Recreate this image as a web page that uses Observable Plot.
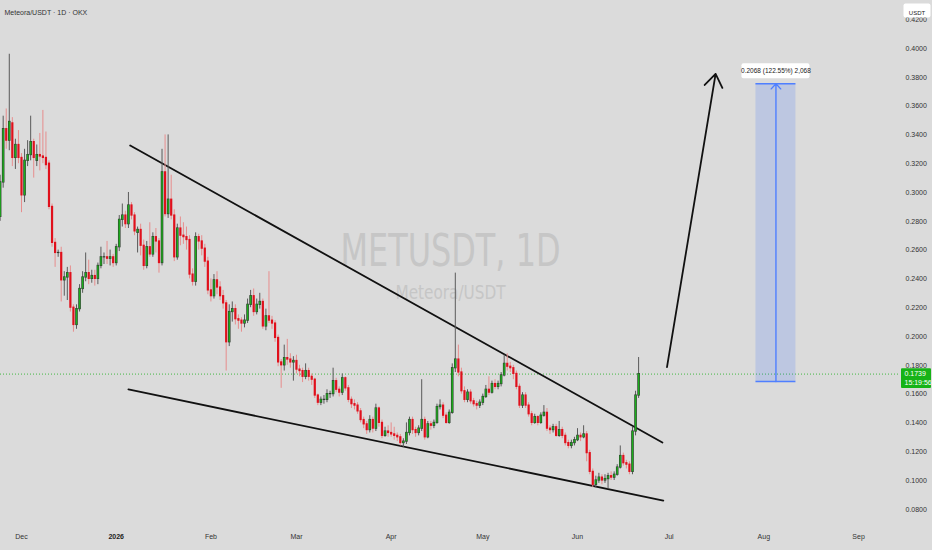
<!DOCTYPE html>
<html><head><meta charset="utf-8">
<script src="https://cdn.jsdelivr.net/npm/d3@7"></script>
<script src="https://cdn.jsdelivr.net/npm/@observablehq/plot@0.6"></script>
<style>
html,body{margin:0;padding:0;background:#dbdbdb;}
#chart svg{display:block;}
</style></head><body><div id="chart"></div>
<script>
// ---- data (daily candles, METUSDT, OKX) ----
const firstDay = [2025, 10, 24]; // Nov 24 2025 (UTC, month 0-based)
const opens = [0.283,0.307,0.344,0.336,0.348,0.324,0.333,0.324,0.298,0.322,0.326,0.335,0.322,0.326,0.325,0.324,0.320,0.290,0.265,0.258,0.258,0.239,0.241,0.244,0.220,0.208,0.219,0.233,0.241,0.244,0.240,0.242,0.240,0.249,0.255,0.255,0.254,0.255,0.251,0.262,0.281,0.284,
0.278,0.291,0.284,0.272,0.274,0.263,0.249,0.262,0.257,0.269,0.266,0.251,0.314,0.285,0.295,0.284,0.255,0.275,0.270,0.269,0.267,0.243,0.238,0.269,0.266,0.261,0.252,0.232,0.228,0.239,0.234,0.228,0.223,0.196,0.217,0.219,0.212,0.211,0.209,0.211,0.222,0.228,0.217,0.222,
0.224,0.207,0.214,0.211,0.209,0.199,0.182,0.180,0.185,0.184,0.182,0.183,0.177,0.176,0.172,0.176,0.172,0.170,0.159,0.154,0.156,0.156,0.160,0.160,0.169,0.163,0.161,0.171,0.164,0.156,0.153,0.152,0.148,0.142,0.139,0.135,0.142,0.136,0.150,0.140,0.131,0.134,
0.133,0.132,0.131,0.130,0.126,0.127,0.133,0.142,0.135,0.133,0.136,0.142,0.130,0.139,0.138,0.140,0.151,0.152,0.145,0.140,0.147,0.178,0.184,0.175,0.162,0.156,0.161,0.155,0.153,0.152,0.154,0.158,0.163,0.161,0.167,0.165,0.167,0.173,0.181,0.179,0.178,0.174,0.165,
0.152,0.159,0.152,0.146,0.140,0.144,0.140,0.145,0.147,0.136,0.135,0.137,0.131,0.135,0.131,0.126,0.124,0.126,0.128,0.131,0.130,0.132,0.119,0.106,0.097,0.100,0.102,0.100,0.101,0.103,0.102,0.104,0.109,0.117,0.112,0.111,0.106,0.134,0.159];
const highs = [0.312,0.353,0.358,0.396,0.352,0.337,0.343,0.327,0.330,0.336,0.353,0.337,0.333,0.341,0.357,0.342,0.322,0.292,0.268,0.260,0.262,0.245,0.248,0.249,0.222,0.222,0.236,0.245,0.258,0.253,0.246,0.246,0.251,0.262,0.258,0.266,0.260,0.257,0.264,0.284,0.292,0.287,
0.300,0.293,0.286,0.276,0.278,0.267,0.266,0.279,0.272,0.275,0.268,0.330,0.340,0.340,0.312,0.288,0.278,0.283,0.279,0.276,0.270,0.247,0.272,0.271,0.270,0.264,0.255,0.240,0.243,0.245,0.238,0.232,0.225,0.222,0.224,0.222,0.215,0.213,0.215,0.226,0.232,0.233,0.226,0.230,
0.226,0.219,0.245,0.214,0.211,0.201,0.184,0.194,0.198,0.188,0.186,0.187,0.180,0.178,0.181,0.178,0.174,0.171,0.160,0.158,0.159,0.163,0.162,0.178,0.171,0.165,0.174,0.172,0.166,0.158,0.156,0.154,0.150,0.144,0.141,0.145,0.144,0.153,0.151,0.142,0.137,0.138,
0.140,0.137,0.133,0.132,0.129,0.140,0.144,0.144,0.137,0.138,0.170,0.144,0.141,0.141,0.142,0.153,0.156,0.154,0.147,0.149,0.181,0.244,0.194,0.178,0.165,0.163,0.163,0.157,0.155,0.156,0.160,0.166,0.172,0.169,0.170,0.169,0.175,0.187,0.188,0.182,0.180,0.176,0.167,
0.161,0.161,0.154,0.148,0.146,0.145,0.147,0.152,0.150,0.138,0.139,0.139,0.141,0.137,0.133,0.128,0.128,0.130,0.136,0.133,0.138,0.134,0.121,0.108,0.103,0.105,0.104,0.104,0.105,0.106,0.106,0.111,0.124,0.119,0.114,0.113,0.137,0.162,0.1854];
const lows = [0.280,0.303,0.330,0.329,0.318,0.316,0.320,0.286,0.293,0.318,0.322,0.310,0.318,0.315,0.320,0.316,0.288,0.262,0.248,0.255,0.224,0.228,0.225,0.217,0.203,0.205,0.217,0.230,0.238,0.236,0.237,0.235,0.236,0.247,0.250,0.250,0.249,0.248,0.249,0.259,0.276,0.275,
0.275,0.281,0.270,0.258,0.256,0.246,0.247,0.255,0.255,0.258,0.244,0.249,0.283,0.282,0.281,0.252,0.253,0.263,0.264,0.260,0.240,0.235,0.235,0.260,0.256,0.248,0.229,0.224,0.226,0.229,0.225,0.219,0.176,0.193,0.210,0.208,0.205,0.203,0.206,0.209,0.220,0.214,0.215,0.219,
0.205,0.204,0.209,0.205,0.196,0.179,0.164,0.176,0.180,0.178,0.169,0.174,0.172,0.168,0.170,0.169,0.166,0.157,0.152,0.152,0.153,0.154,0.157,0.158,0.161,0.158,0.159,0.162,0.154,0.150,0.149,0.146,0.140,0.136,0.132,0.133,0.133,0.134,0.137,0.129,0.130,0.130,
0.130,0.128,0.127,0.124,0.123,0.125,0.131,0.132,0.130,0.131,0.134,0.128,0.129,0.135,0.136,0.139,0.149,0.143,0.139,0.139,0.146,0.175,0.172,0.160,0.154,0.154,0.153,0.151,0.149,0.150,0.152,0.157,0.159,0.160,0.163,0.163,0.165,0.172,0.176,0.175,0.170,0.163,0.150,
0.150,0.150,0.144,0.138,0.139,0.138,0.139,0.144,0.134,0.132,0.133,0.130,0.130,0.129,0.124,0.122,0.122,0.124,0.127,0.127,0.129,0.113,0.104,0.095,0.095,0.098,0.097,0.098,0.094,0.100,0.100,0.103,0.108,0.110,0.108,0.104,0.104,0.131,0.157];
const closes = [0.307,0.344,0.336,0.349,0.324,0.333,0.324,0.298,0.322,0.326,0.335,0.324,0.326,0.325,0.324,0.319,0.290,0.265,0.258,0.258,0.239,0.241,0.244,0.220,0.208,0.219,0.233,0.241,0.244,0.240,0.242,0.240,0.249,0.255,0.255,0.254,0.255,0.251,0.262,0.281,0.284,0.278,
0.291,0.284,0.273,0.274,0.263,0.249,0.262,0.257,0.269,0.266,0.251,0.314,0.285,0.295,0.284,0.255,0.275,0.270,0.269,0.267,0.243,0.238,0.269,0.266,0.261,0.252,0.232,0.228,0.239,0.234,0.228,0.223,0.196,0.217,0.219,0.212,0.211,0.209,0.211,0.222,0.228,0.217,0.222,0.224,
0.207,0.214,0.211,0.209,0.199,0.182,0.180,0.185,0.184,0.182,0.183,0.177,0.176,0.172,0.176,0.172,0.170,0.159,0.154,0.156,0.156,0.160,0.160,0.169,0.163,0.161,0.171,0.164,0.156,0.153,0.152,0.148,0.142,0.139,0.135,0.142,0.136,0.150,0.140,0.131,0.134,0.133,
0.132,0.131,0.130,0.126,0.127,0.133,0.142,0.135,0.133,0.136,0.142,0.130,0.139,0.138,0.140,0.151,0.152,0.145,0.140,0.147,0.178,0.184,0.175,0.162,0.156,0.161,0.155,0.153,0.152,0.154,0.158,0.163,0.161,0.167,0.165,0.167,0.173,0.181,0.179,0.178,0.174,0.165,0.152,
0.159,0.152,0.146,0.140,0.144,0.140,0.145,0.147,0.136,0.135,0.137,0.131,0.135,0.131,0.126,0.124,0.126,0.128,0.131,0.130,0.132,0.119,0.106,0.097,0.100,0.102,0.100,0.101,0.103,0.102,0.104,0.109,0.117,0.112,0.111,0.106,0.134,0.159,0.1739];

const monthTicks = ["2025-12-01","2026-02-01","2026-03-01","2026-04-01","2026-05-01","2026-06-01","2026-07-01","2026-08-01","2026-09-01"];
const monthLabels = ["Dec","Feb","Mar","Apr","May","Jun","Jul","Aug","Sep"];
const yearTicks = ["2026-01-01"];
const yearLabels = ["2026"];
const priceTicks = [0.08,0.10,0.12,0.14,0.16,0.18,0.20,0.22,0.24,0.26,0.28,0.30,0.32,0.34,0.36,0.38,0.40,0.42];

const upperDates = ["2026-01-05T14:00Z","2026-06-28T19:00Z"];
const upperPrices = [0.3326,0.1264];
const lowerDates = ["2026-01-05T00:00Z","2026-06-29T02:00Z"];
const lowerPrices = [0.1632,0.0861];
const arrowDates = ["2026-06-30T07:00Z","2026-07-16T05:00Z"];
const arrowPrices = [0.1787,0.3824];
const measureDates = ["2026-07-29T10:00Z","2026-08-11T12:00Z"];
const measurePrices = [0.16875,0.37555];
const measureText = "0.2068 (122.55%) 2,068";
const lastPrice = 0.1739;
const lastTime = "15:19:56";
const titleText = "Meteora/USDT · 1D · OKX";
const watermark = "METUSDT, 1D";
const watermarkSub = "Meteora/USDT";

// ---- build tables ----
const candles = opens.map((o, i) => ({
  date: new Date(Date.UTC(firstDay[0], firstDay[1], firstDay[2] + i)),
  open: o, high: highs[i], low: lows[i], close: closes[i],
  top: Math.max(o, closes[i]), bot: Math.min(o, closes[i]), up: closes[i] >= o
}));
const up = candles.filter(d => d.up), down = candles.filter(d => !d.up);
const trend = (dates, prices) => dates.map((d, i) => ({date: new Date(d), price: prices[i]}));
const mStart = new Date(measureDates[0]), mEnd = new Date(measureDates[1]);
const mMid = new Date((+mStart + +mEnd) / 2);
const lblMap = new Map(monthTicks.map((d, i) => [+new Date(d), monthLabels[i]]));

const GREEN = "#1cae1c", RED = "#e0101c", BLUE = "#4f7fff";
const FONT = "'Liberation Sans', Arial, sans-serif";
const WM_FONT = "'DejaVu Sans', sans-serif";

const chart = Plot.plot({
  width: 932, height: 550,
  marginLeft: 0, marginRight: 32, marginTop: 0, marginBottom: 24,
  style: {background: "#dbdbdb", fontFamily: FONT, overflow: "visible"},
  x: {type: "utc", domain: [new Date("2025-11-24T03:00Z"), new Date("2026-09-14T17:30Z")], axis: null},
  y: {domain: [0.068056, 0.433333], axis: null},
  marks: [
    // watermark
    Plot.text([watermark], {frameAnchor: "middle", dy: -12, fontSize: 44, fill: "#c6c6c6", fontFamily: WM_FONT, className: "wm-main"}),
    Plot.text([watermarkSub], {frameAnchor: "middle", dy: 29, fontSize: 20, fill: "#c6c6c6", fontFamily: WM_FONT, className: "wm-sub"}),
    // current price line
    Plot.ruleY([lastPrice], {stroke: GREEN, strokeWidth: 0.8, strokeDasharray: "1,2"}),
    // trend lines
    Plot.line(trend(upperDates, upperPrices), {x: "date", y: "price", stroke: "#111", strokeWidth: 1.8}),
    Plot.line(trend(lowerDates, lowerPrices), {x: "date", y: "price", stroke: "#111", strokeWidth: 1.8}),
    // wicks
    Plot.ruleX(up, {x: "date", y1: "high", y2: "low", stroke: "#5a5a5a", strokeWidth: 1}),
    Plot.ruleX(down, {x: "date", y1: "high", y2: "low", stroke: "#e78d8d", strokeWidth: 1}),
    // bodies
    Plot.ruleX(up, {x: "date", y1: "top", y2: "bot", stroke: "#2f3f2f", strokeWidth: 2.6, insetTop: -0.6, insetBottom: -0.6}),
    Plot.ruleX(up, {x: "date", y1: "top", y2: "bot", stroke: GREEN, strokeWidth: 1.4}),
    Plot.ruleX(down, {x: "date", y1: "top", y2: "bot", stroke: RED, strokeWidth: 2.2, insetTop: -0.6, insetBottom: -0.6}),
    // projection arrow
    Plot.arrow([0], {x1: () => new Date(arrowDates[0]), y1: () => arrowPrices[0],
      x2: () => new Date(arrowDates[1]), y2: () => arrowPrices[1],
      stroke: "#111", strokeWidth: 1.8, headLength: 13, headAngle: 70}),
    // measurement box
    Plot.rect([0], {x1: () => mStart, x2: () => mEnd, y1: () => measurePrices[0], y2: () => measurePrices[1],
      fill: "#2962ff", fillOpacity: 0.17}),
    Plot.ruleY(measurePrices, {x1: () => mStart, x2: () => mEnd, stroke: BLUE, strokeWidth: 1.6}),
    Plot.arrow([0], {x1: () => mMid, y1: () => measurePrices[0], x2: () => mMid, y2: () => measurePrices[1],
      stroke: BLUE, strokeWidth: 1.4, headLength: 7.5, headAngle: 85}),
    Plot.rect([0], {x1: () => mStart, x2: () => mEnd, y1: () => measurePrices[1], y2: () => measurePrices[1],
      fill: "white", insetLeft: -14, insetRight: -14, insetTop: -20, insetBottom: 5, rx: 2}),
    Plot.text([measureText], {x: () => mMid, y: () => measurePrices[1], dy: -12.5, fontSize: 6.5, fill: "#222"}),
    // axes
    Plot.axisY(priceTicks, {anchor: "right", tickSize: 0, tickPadding: 5, tickFormat: d3.format(".4f"), fontSize: 7, fill: "#333"}),
    Plot.axisX(monthTicks.map(d => new Date(d)), {anchor: "bottom", tickSize: 0, tickPadding: 8, fontSize: 7, fill: "#333",
      tickFormat: d => lblMap.get(+d)}),
    Plot.axisX(yearTicks.map(d => new Date(d)), {anchor: "bottom", tickSize: 0, tickPadding: 8, fontSize: 7, fill: "#222",
      fontWeight: "bold", tickFormat: () => yearLabels[0]}),
    // price axis label
    Plot.rect([lastPrice], {y1: d => d, y2: d => d, fill: "#16b316",
      insetLeft: 901, insetRight: -31, insetTop: -5.4, insetBottom: -14.4, rx: 1}),
    Plot.text([lastPrice], {y: d => d, text: d => d.toFixed(4), frameAnchor: "right", textAnchor: "start", dx: 4, dy: -0.6, fontSize: 7, fill: "white"}),
    Plot.text([lastTime], {y: () => lastPrice, text: d => d, frameAnchor: "right", textAnchor: "start", dx: 4, dy: 8.6, fontSize: 7, fill: "white"}),
    // unit box
    Plot.frame({fill: "white", stroke: "none", insetLeft: 903, insetRight: -30, insetTop: 3, insetBottom: 509, rx: 2}),
    Plot.text(["USDT"], {frameAnchor: "top-right", dx: 16.5, dy: 10, textAnchor: "middle", fontSize: 6, fill: "#222"}),
    // title
    Plot.text([titleText], {frameAnchor: "top-left", dx: 4, dy: 10, textAnchor: "start", fontSize: 7, fill: "#333"})
  ]
});
// condense the watermark glyphs to the reference's narrow face
d3.select(chart).selectAll(".wm-main text").attr("textLength", 220).attr("lengthAdjust", "spacingAndGlyphs");
d3.select(chart).selectAll(".wm-sub text").attr("textLength", 110).attr("lengthAdjust", "spacingAndGlyphs");
document.getElementById("chart").append(chart);
</script>
</body></html>
